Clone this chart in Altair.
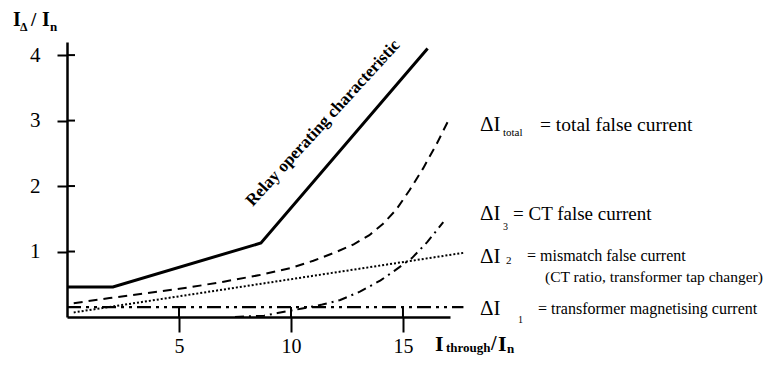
import altair as alt
import pandas as pd

# ---- data ----
relay_x = [0, 2.05, 8.66, 16.1]
relay_y = [0.46, 0.46, 1.13, 4.1]

total_x = [0.3, 1.9, 3.5, 5.6, 7.0, 8.6, 10.0, 11.0, 12.0, 12.8, 13.5, 14.1, 14.7, 15.3, 15.9, 16.5, 17.1]
total_y = [0.21, 0.29, 0.36, 0.46, 0.54, 0.64, 0.75, 0.86, 0.99, 1.11, 1.25, 1.42, 1.64, 1.94, 2.27, 2.64, 3.05]

d2_x = [0.3, 17.7]
d2_y = [0.07, 0.98]

d3_x = [7.5, 8.8, 9.4, 10.5, 11.4, 12.2, 13.1, 14.0, 14.6, 15.4, 16.1, 16.8]
d3_y = [0.0, 0.02, 0.06, 0.13, 0.19, 0.26, 0.39, 0.56, 0.70, 0.90, 1.15, 1.45]

d1_x = [0, 17.7]
d1_y = [0.15, 0.15]

x_ticks = [5, 10, 15]
y_ticks = [1, 2, 3, 4]

X_MAX = 17.1
Y_MAX = 4.2
W, H = 383, 275
PX_X = W / X_MAX
PX_Y = H / Y_MAX
LEFT, BOTTOM = 67, 317  # page position of data origin


def dx(px):
    return (px - LEFT) / PX_X


def dy(py):
    return (BOTTOM - py) / PX_Y


SERIF = "Liberation Serif"

xs = alt.Scale(domain=[0, X_MAX], nice=False, zero=False)
ys = alt.Scale(domain=[0, Y_MAX], nice=False, zero=False)

x_axis = alt.Axis(values=x_ticks, title=None, grid=False, domainColor="black",
                  domainWidth=2.5, tickColor="black", tickWidth=2, tickSize=15,
                  labelFont=SERIF, labelFontSize=20, labelColor="black",
                  labelBaseline="alphabetic", labelPadding=20, labelFlush=False)
y_axis = alt.Axis(values=y_ticks, title=None, grid=False, domainColor="black",
                  domainWidth=2.5, tickColor="black", tickWidth=2, tickSize=10,
                  labelFont=SERIF, labelFontSize=21, labelColor="black",
                  labelPadding=17, labelFlush=False)


def line(xv, yv, width, dash=None):
    df = pd.DataFrame({"x": xv, "y": yv})
    kw = dict(color="black", strokeWidth=width, clip=False)
    if dash:
        kw["strokeDash"] = dash
    return alt.Chart(df).mark_line(**kw).encode(
        x=alt.X("x:Q", scale=xs, axis=x_axis),
        y=alt.Y("y:Q", scale=ys, axis=y_axis),
        order=alt.Order("x:Q"),
    )


layers = []
layers.append(line(relay_x, relay_y, 3))
layers.append(line(total_x, total_y, 2, [9, 6]))
layers.append(line(d2_x, d2_y, 2, [2, 2]))
layers.append(line(d3_x, d3_y, 2, [9, 5, 2, 5]))
layers.append(line(d1_x, d1_y, 2.2, [14, 5, 3, 5, 3, 5]))

# inward parts of the crossing ticks
xt_df = pd.DataFrame({"x": x_ticks, "y0": [0] * len(x_ticks), "y1": [dy(BOTTOM - 10)] * len(x_ticks)})
layers.append(alt.Chart(xt_df).mark_rule(color="black", strokeWidth=2).encode(
    x=alt.X("x:Q", scale=xs, axis=x_axis), y=alt.Y("y0:Q", scale=ys, axis=y_axis), y2="y1:Q"))
yt_df = pd.DataFrame({"y": y_ticks, "x0": [0] * len(y_ticks), "x1": [dx(LEFT + 8)] * len(y_ticks)})
layers.append(alt.Chart(yt_df).mark_rule(color="black", strokeWidth=2).encode(
    y=alt.Y("y:Q", scale=ys, axis=y_axis), x=alt.X("x0:Q", scale=xs, axis=x_axis), x2="x1:Q"))

# ---- annotations: (text, page x, page y, size, bold, align, angle) ----
annotations = [
    # relay label
    ("Relay operating characteristic", 323, 123, 17, True, "center", 312.5),
    # legend-like labels
    ("ΔI", 480, 125, 21, False, "left", 0),
    ("total", 503, 133, 11, False, "left", 0),
    ("= total false current", 540, 125, 19.5, False, "left", 0),
    ("ΔI", 480, 214, 21, False, "left", 0),
    ("3", 503, 227, 10, False, "left", 0),
    ("= CT false current", 513, 214, 19, False, "left", 0),
    ("ΔI", 480, 257, 21, False, "left", 0),
    ("2", 506, 261, 11, False, "left", 0),
    ("= mismatch false current", 527, 256, 16, False, "left", 0),
    ("(CT ratio, transformer tap changer)", 545, 277, 15.5, False, "left", 0),
    ("ΔI", 480, 309, 21, False, "left", 0),
    ("1", 518, 320, 10, False, "left", 0),
    ("= transformer magnetising current", 538, 309, 16, False, "left", 0),
    # y title
    ("I", 13, 20, 20, True, "left", 0),
    ("Δ", 20, 27, 12, True, "left", 0),
    ("/", 31, 20, 19, True, "left", 0),
    ("I", 42, 20, 20, True, "left", 0),
    ("n", 50, 27, 13, True, "left", 0),
    # x title
    ("I", 435, 344, 22, True, "left", 0),
    ("through", 446, 348, 13, True, "left", 0),
    ("/", 491, 344, 20, True, "left", 0),
    ("I", 498, 344, 22, True, "left", 0),
    ("n", 507, 349, 13, True, "left", 0),
]

for text, px, py, size, bold, align, angle in annotations:
    df = pd.DataFrame({"x": [dx(px)], "y": [dy(py)], "t": [text]})
    mk = dict(font=SERIF, fontSize=size, color="black", align=align,
              baseline="middle", clip=False)
    if bold:
        mk["fontWeight"] = "bold"
    if angle:
        mk["angle"] = angle
    layers.append(alt.Chart(df).mark_text(**mk).encode(
        x=alt.X("x:Q", scale=xs, axis=x_axis),
        y=alt.Y("y:Q", scale=ys, axis=y_axis),
        text="t:N"))

chart = alt.layer(*layers).properties(
    width=W, height=H,
    autosize=alt.AutoSizeParams(type="none"),
    padding={"left": 59, "top": 34, "right": 760 - 59 - W, "bottom": 349 - 34 - H},
    background="white",
).configure_view(stroke=None)

chart.save("out.html", embed_options={"renderer": "svg", "actions": False})
